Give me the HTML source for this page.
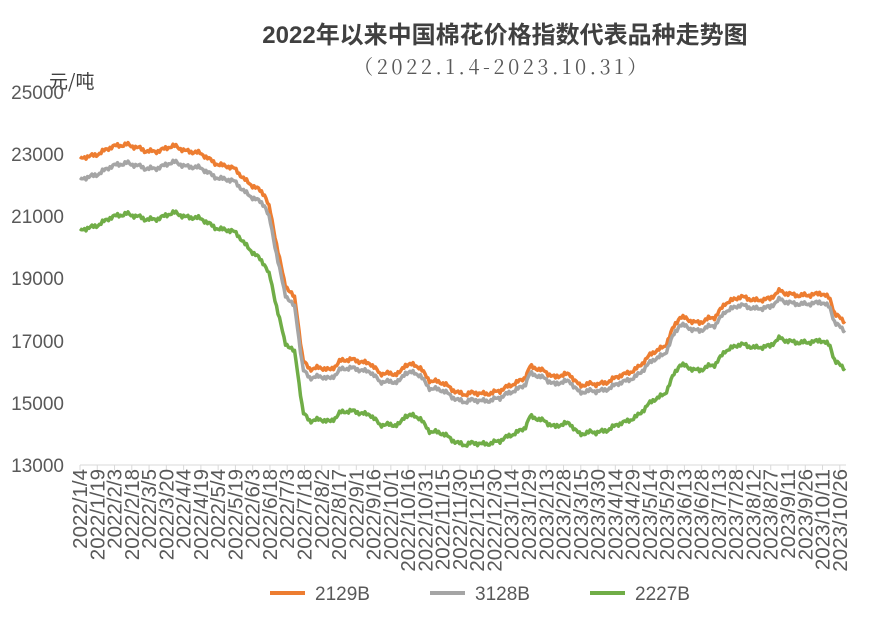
<!DOCTYPE html>
<html><head><meta charset="utf-8"><style>
body{margin:0;background:#fff;width:884px;height:624px;overflow:hidden}
svg{font-family:"Liberation Sans","Noto Sans CJK SC",sans-serif}
</style></head><body>
<svg id="s" width="884" height="624" xmlns="http://www.w3.org/2000/svg">
<text x="505" y="43" text-anchor="middle" font-size="24" font-weight="bold" fill="#404040">2022年以来中国棉花价格指数代表品种走势图</text>
<text x="502" y="74" text-anchor="middle" font-size="20" letter-spacing="3.5" fill="#595959" font-family="'Noto Serif CJK SC',serif">（2022.1.4-2023.10.31）</text>
<text x="49" y="88" font-size="19" fill="#404040" font-family="'Noto Sans CJK SC',sans-serif">元/吨</text>
<g font-size="19" fill="#595959" text-anchor="end">
<text x="64" y="99">25000</text><text x="64" y="161">23000</text><text x="64" y="223">21000</text>
<text x="64" y="285">19000</text><text x="64" y="348">17000</text><text x="64" y="410">15000</text><text x="64" y="472">13000</text>
</g>
<line x1="80" y1="465" x2="846" y2="465" stroke="#d9d9d9" stroke-width="1"/>
<g id="ticks"></g><g id="lab" font-size="20.5" fill="#595959"></g>
<g id="lines" fill="none" stroke-width="3.5" stroke-linejoin="round"></g>
<g font-size="19" fill="#595959">
<line x1="270" y1="593" x2="305" y2="593" stroke="#ed7d31" stroke-width="4"/><text x="315" y="600">2129B</text>
<line x1="430" y1="593" x2="465" y2="593" stroke="#a5a5a5" stroke-width="4"/><text x="475" y="600">3128B</text>
<line x1="590" y1="593" x2="625" y2="593" stroke="#70ad47" stroke-width="4"/><text x="635" y="600">2227B</text>
</g>
</svg>
<script>
var ns="http://www.w3.org/2000/svg";
function el(t,a,p){var e=document.createElementNS(ns,t);for(var k in a)e.setAttribute(k,a[k]);document.getElementById(p).appendChild(e);return e}
var labels=[],d=new Date(2022,0,4);
while(d<=new Date(2023,9,31)){labels.push(d.getFullYear()+"/"+(d.getMonth()+1)+"/"+d.getDate());d=new Date(d.getTime()+15*864e5);}
var step=(845-80)/(labels.length-1+0.3);
labels.forEach(function(l,i){var x=80+i*step;
el("line",{x1:x,y1:465,x2:x,y2:470,stroke:"#d9d9d9"},"ticks");
var t=el("text",{x:0,y:0,"text-anchor":"end",transform:"translate("+(x+7)+",469) rotate(-90)"},"lab");t.textContent=l;});
var O=[[80,160],[100,152],[127,143],[145,152],[175,147],[195,152],[215,162],[235,170],[250,183],[265,196],[270,210],[278,250],[285,285],[295,300],[303,360],[310,368],[330,370],[340,360],[370,362],[380,375],[400,372],[405,365],[420,367],[430,380],[445,385],[465,395],[480,393],[500,392],[515,382],[525,378],[530,368],[545,370],[555,378],[570,374],[580,385],[595,385],[610,380],[625,375],[640,365],[655,352],[665,345],[672,330],[680,318],[700,322],[715,318],[725,302],[740,298],[770,300],[780,290],[800,297],[820,292],[830,300],[835,315],[845,320]];
function interp(P,x){for(var i=1;i<P.length;i++)if(x<=P[i][0]){var a=P[i-1],b=P[i];return a[1]+(b[1]-a[1])*(x-a[0])/(b[0]-a[0]);}return P[P.length-1][1]}
var G=[[80,21],[250,12],[275,10],[300,9],[500,7],[600,7],[700,8],[845,9]];
var N=[[80,72],[240,63],[265,70],[280,60],[300,52],[500,50],[540,50],[600,48],[845,47]];
function path(off,col){var s="";for(var x=80;x<=845;x+=1.5){var y=interp(O,x)+(off?interp(off,x):0)+Math.sin(x*1.7)*1.4+Math.sin(x*0.53)*1.1+Math.sin(x*0.21)*1.2;s+=(s?"L":"M")+x.toFixed(1)+","+y.toFixed(1);}el("path",{d:s,stroke:col},"lines");}
path(null,"#ed7d31");path(G,"#a5a5a5");path(N,"#70ad47");
</script>
</body></html>
